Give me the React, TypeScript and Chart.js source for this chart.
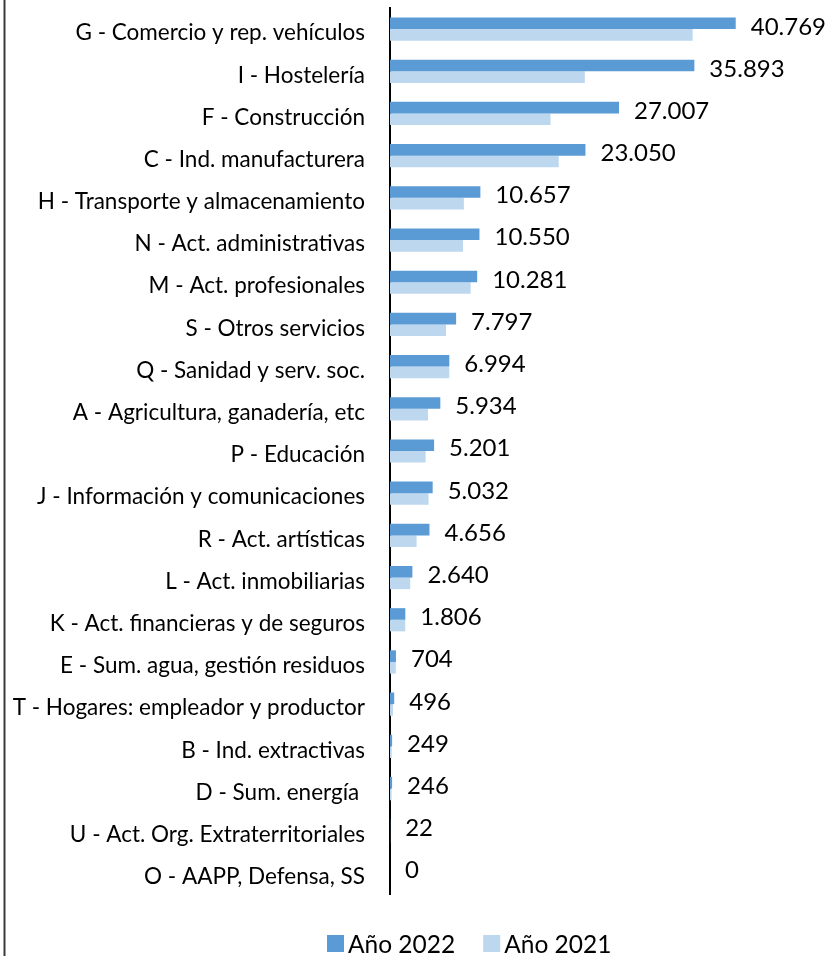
import React, { useEffect, useRef } from "react";
import { Chart, registerables } from "chart.js";

Chart.register(...registerables);

const categories: string[] = [
  "G - Comercio y rep. vehículos",
  "I - Hostelería",
  "F - Construcción",
  "C - Ind. manufacturera",
  "H - Transporte y almacenamiento",
  "N - Act. administrativas",
  "M - Act. profesionales",
  "S - Otros servicios",
  "Q - Sanidad y serv. soc.",
  "A - Agricultura, ganadería, etc",
  "P - Educación",
  "J - Información y comunicaciones",
  "R - Act. artísticas",
  "L - Act. inmobiliarias",
  "K - Act. financieras y de seguros",
  "E - Sum. agua, gestión residuos",
  "T - Hogares: empleador y productor",
  "B - Ind. extractivas",
  "D - Sum. energía ",
  "U - Act. Org. Extraterritoriales",
  "O - AAPP, Defensa, SS",
];

const values2022: number[] = [
  40769, 35893, 27007, 23050, 10657, 10550, 10281, 7797, 6994, 5934, 5201,
  5032, 4656, 2640, 1806, 704, 496, 249, 246, 22, 0,
];

const values2021: number[] = [
  35690, 22970, 18930, 19900, 8710, 8615, 9510, 6600, 6990, 4480, 4200,
  4540, 3140, 2385, 1800, 680, 350, 200, 190, 15, 0,
];

const seriesLabels: string[] = ["Año 2022", "Año 2021"];
const seriesColors: string[] = ["#5B9BD5", "#BDD7EE"];

const fmt = (v: number) => String(v).replace(/\B(?=(\d{3})+(?!\d))/g, ".");

const frameAndLabels = {
  id: "frameAndLabels",
  beforeDraw(chart: any) {
    const ctx = chart.ctx;
    ctx.save();
    ctx.strokeStyle = "#3a3a3a";
    ctx.lineWidth = 2;
    ctx.beginPath();
    ctx.moveTo(4.5, 0);
    ctx.lineTo(4.5, chart.height);
    ctx.stroke();
    ctx.restore();
  },
  afterDatasetsDraw(chart: any) {
    const ctx = chart.ctx;
    ctx.save();
    const meta = chart.getDatasetMeta(0);
    const data = chart.data.datasets[0].data as number[];
    ctx.font = "24px Lato";
    ctx.fillStyle = "#000";
    ctx.textAlign = "left";
    ctx.textBaseline = "middle";
    meta.data.forEach((el: any, i: number) => {
      ctx.fillText(fmt(data[i]), el.x + 15, el.y + 3.5);
    });
    ctx.font = "24.5px Lato";
    ctx.textBaseline = "alphabetic";
    let x = 327;
    chart.data.datasets.forEach((ds: any) => {
      ctx.fillStyle = ds.backgroundColor;
      ctx.fillRect(x, 935, 17, 17);
      ctx.fillStyle = "#000";
      ctx.fillText(ds.label, x + 21, 953);
      x += 21 + ctx.measureText(ds.label).width + 28;
    });
    ctx.restore();
  },
};

export default function App() {
  const ref = useRef<HTMLCanvasElement>(null);
  useEffect(() => {
    document.body.style.margin = "0";
    const chart = new Chart(ref.current!, {
      type: "bar",
      data: {
        labels: categories,
        datasets: [
          {
            label: seriesLabels[0],
            data: values2022,
            backgroundColor: seriesColors[0],
            categoryPercentage: 0.55,
            barPercentage: 1.0,
          },
          {
            label: seriesLabels[1],
            data: values2021,
            backgroundColor: seriesColors[1],
            categoryPercentage: 0.55,
            barPercentage: 1.0,
          },
        ],
      },
      options: {
        indexAxis: "y",
        responsive: false,
        animation: false,
        layout: { padding: { top: 8, bottom: 62, right: 17, left: 0 } },
        plugins: {
          legend: { display: false },
          tooltip: { enabled: false },
        },
        scales: {
          x: {
            display: false,
            min: 0,
            max: 50000,
          },
          y: {
            grid: { display: false, drawTicks: false },
            border: { display: true, color: "#000", width: 2 },
            ticks: {
              autoSkip: false,
              color: "#000",
              font: { family: "Lato", size: 22.5 },
              padding: 25,
              labelOffset: 4,
            },
            afterFit(scale: any) {
              scale.width = 390;
              scale.paddingTop = 0;
              scale.paddingBottom = 0;
            },
          },
        },
      },
      plugins: [frameAndLabels],
    });
    return () => chart.destroy();
  }, []);
  return <canvas ref={ref} width={831} height={956} />;
}
